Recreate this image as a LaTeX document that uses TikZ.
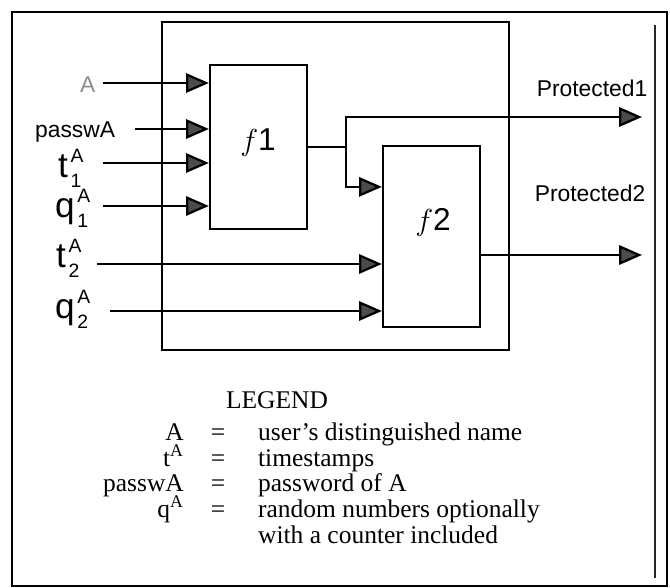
\documentclass[tikz,border=0pt]{standalone}
\usepackage{fontspec}
\setmainfont{Liberation Serif}
\newfontfamily\diagfont{Liberation Sans}
\usetikzlibrary{arrows.meta,calc,positioning}

% input label with sub- and superscript
\newcommand{\inlab}[2]{{\fontsize{20}{20}\selectfont #1}\kern1.5pt\raisebox{-6pt}{\fontsize{11}{11}\selectfont #2}\kern-6.1pt\raisebox{8.5pt}{\fontsize{11}{11}\selectfont A}}

\begin{document}
\begin{tikzpicture}[x=0.02cm, y=-0.02cm, line width=1.3pt,
  fbox/.style={draw, line width=1.3pt, minimum width=1.94cm, inner sep=0pt},
  arr/.style={-{Triangle[length=13pt,width=11pt,fill=black!70]}},
  lbl/.style={font={\diagfont\fontsize{13}{15}\selectfont}, inner sep=0pt, anchor=base west},
  leg/.style={font={\fontsize{14.5}{16}\selectfont}, inner sep=0pt}]

  \useasboundingbox (0,0) rectangle (670,588);

  % === Frames ===
  \draw (12,12) rectangle (667,586);
  \draw[line width=1.4pt, black!85] (655,25) -- (655,578);
  \draw (162,22) rectangle (509,350);

  % === Function boxes ===
  \node[fbox, minimum height=3.28cm] (f1) at (258.5,147) {};
  \node[font={\diagfont\fontsize{18}{18}\selectfont}] (f1txt) at (258,143) {$f$1};
  \node[fbox, minimum height=3.62cm] (f2) at (431.5,236.5) {};
  \node[font={\diagfont\fontsize{18}{18}\selectfont}] (f2txt) at (433,222) {$f$2};

  % === Inputs ===
  \node[lbl, text=black!45] (inA) at (79,93) {A};
  \node[lbl] (inpw) at (34,138) {passwA};
  \node[lbl] (int1) at (57,177) {\inlab{t}{1}};
  \node[lbl] (inq1) at (54,217) {\inlab{q}{1}};
  \node[lbl] (int2) at (55,267) {\inlab{t}{2}};
  \node[lbl] (inq2) at (54,318) {\inlab{q}{2}};

  \coordinate (sA) at (103,83);
  \coordinate (spw) at (135,129);
  \coordinate (st1) at (103,163);
  \coordinate (sq1) at (103,206);
  \coordinate (st2) at (97,264);
  \coordinate (sq2) at (110,311);

  \foreach \s in {sA,spw,st1,sq1}
    \draw[arr] (\s) -- (\s -| f1.west);
  \foreach \s in {st2,sq2}
    \draw[arr] (\s) -- (\s -| f2.west);

  % === Outputs ===
  \node[lbl, anchor=center] (p1) at (592,88) {Protected1};
  \node[lbl, anchor=center] (p2) at (590,193) {Protected2};
  \coordinate (out1) at (642,117);
  \coordinate (out2) at (642,255);
  \coordinate (split) at ($(f1.east)+(38,0)$);

  \draw (f1.east) -- (split);
  \draw[arr] (split) |- (out1);
  \draw[arr] (split) |- ($(f2.north west)+(0,42)$);
  \draw[arr] (f2.east |- out2) -- (out2);

  % === Legend ===
  \node[leg, anchor=base] (legtitle) at (277,408) {LEGEND};

  \node[leg, anchor=base east] (kA) at (185,440) {A};
  \node[leg, anchor=base east] (kt) at (185,466) {t\textsuperscript{A}};
  \node[leg, anchor=base east] (kpw) at (185,491) {passwA};
  \node[leg, anchor=base east] (kq) at (185,517) {q\textsuperscript{A}};

  \foreach \yy/\nm in {440/eA, 466/et, 491/epw, 517/eq}
    \node[leg, anchor=base] (\nm) at (218,\yy) {=};

  \node[leg, anchor=base west] (dA) at (257,440) {user's distinguished name};
  \node[leg, anchor=base west] (dt) at (257,466) {timestamps};
  \node[leg, anchor=base west] (dpw) at (257,491) {password of A};
  \node[leg, anchor=base west] (dq) at (257,517) {random numbers optionally};
  \node[leg, anchor=base west] (dq2) at (257,543) {with a counter included};

\end{tikzpicture}
\end{document}
